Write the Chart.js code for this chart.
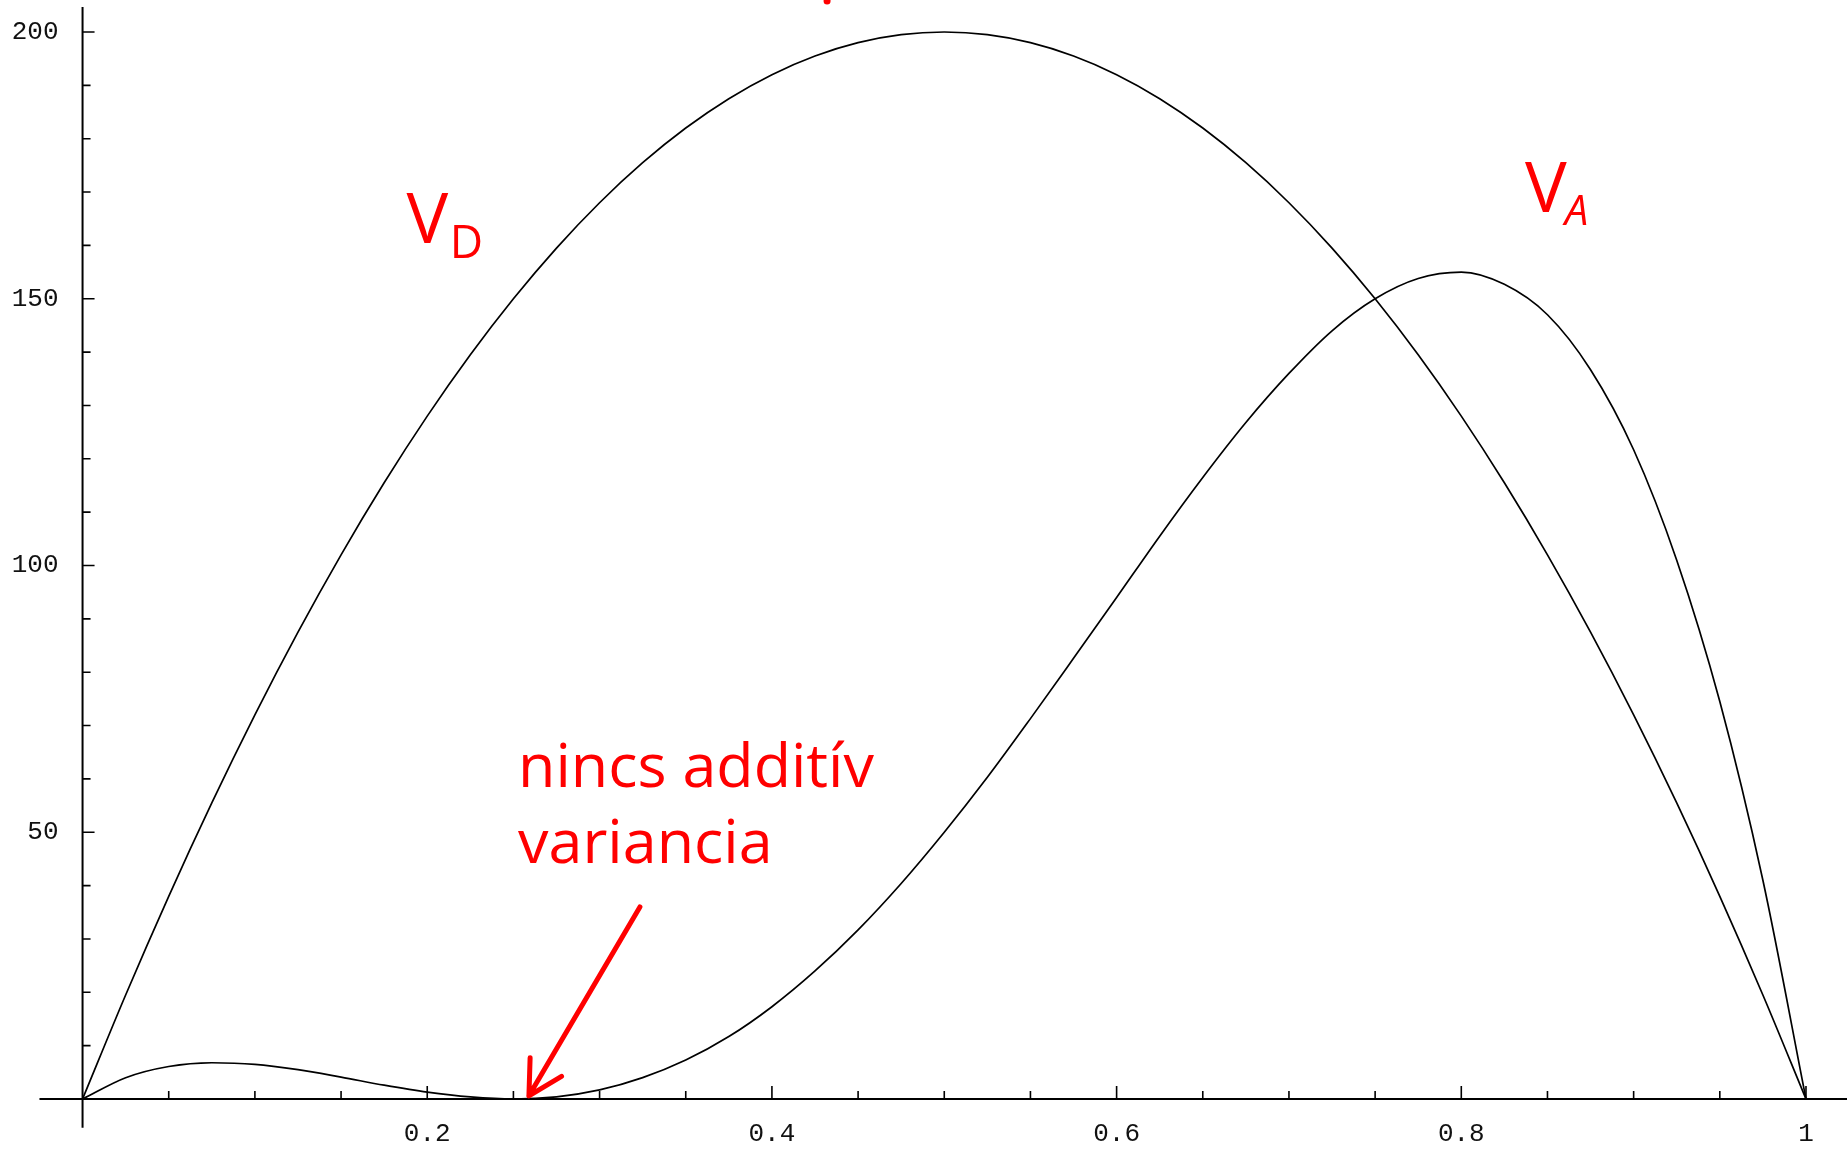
<!DOCTYPE html>
<html>
<head>
<meta charset="utf-8">
<script src="https://cdn.jsdelivr.net/npm/chart.js@4"></script>
<style>
  html, body { margin: 0; padding: 0; background: #fff; }
  canvas { display: block; }
</style>
</head>
<body>
<canvas id="myChart" width="1847" height="1149"></canvas>
<script>
// allele frequency p
const freqP = [0, 0.025, 0.05, 0.075, 0.1, 0.125, 0.15, 0.175, 0.2, 0.225,
  0.25, 0.275, 0.3, 0.325, 0.35, 0.375, 0.4, 0.425, 0.45, 0.475,
  0.5, 0.525, 0.55, 0.575, 0.6, 0.625, 0.65, 0.675, 0.7, 0.725,
  0.75, 0.775, 0.8, 0.825, 0.85, 0.875, 0.9, 0.925, 0.95, 0.975, 1]

// dominance variance
const varD = [0, 19.5, 38, 55.5, 72, 87.5, 102, 115.5, 128, 139.5,
  150, 159.5, 168, 175.5, 182, 187.5, 192, 195.5, 198, 199.5,
  200, 199.5, 198, 195.5, 192, 187.5, 182, 175.5, 168, 159.5,
  150, 139.5, 128, 115.5, 102, 87.5, 72, 55.5, 38, 19.5, 0]

// additive variance
const varA = [0, 4, 6.1, 6.8, 6.5, 5.5, 4.1, 2.6, 1.3, 0.4,
  0, 0.4, 1.7, 4, 7.3, 11.7, 17.3, 24, 31.7, 40.4,
  50, 60.3, 71.3, 82.6, 94, 105.5, 116.5, 126.8, 136, 144,
  150, 153.8, 155, 152.7, 147, 136.7, 121.7, 101, 74.5, 41, 0]

const xTickLabels = ["0.2", "0.4", "0.6", "0.8", "1"]
const yTickLabels = ["50", "100", "150", "200"]

const RED = "#ff0000"

function pts(ys) {
  return freqP.map((x, i) => ({x: x, y: ys[i]}))
}

// axes through the origin with inside ticks, drawn under the curves
const axesPlugin = {
  id: "axes",
  beforeDatasetsDraw(chart) {
    const ctx = chart.ctx
    const X = v => chart.scales.x.getPixelForValue(v)
    const Y = v => chart.scales.y.getPixelForValue(v)
    const x0 = X(0), y0 = Y(0)
    ctx.save()
    ctx.strokeStyle = "#000"
    ctx.lineWidth = 2
    ctx.beginPath()
    ctx.moveTo(X(-0.025), y0); ctx.lineTo(chart.width, y0)
    ctx.moveTo(x0, Y(204.7)); ctx.lineTo(x0, Y(-5.4))
    ctx.stroke()

    ctx.lineWidth = 1.6
    ctx.beginPath()
    for (let i = 1; i <= 20; i++) {
      const px = X(i * 0.05)
      const len = (i % 4 === 0) ? 13 : 8
      ctx.moveTo(px, y0); ctx.lineTo(px, y0 - len)
    }
    for (let i = 1; i <= 20; i++) {
      const py = Y(i * 10)
      const len = (i % 5 === 0) ? 12 : 8
      ctx.moveTo(x0, py); ctx.lineTo(x0 + len, py)
    }
    ctx.stroke()

    ctx.fillStyle = "#111"
    ctx.font = '26px "Liberation Mono"'
    ctx.textAlign = "center"
    ctx.textBaseline = "middle"
    xTickLabels.forEach(t => ctx.fillText(t, X(parseFloat(t)), y0 + 35))
    ctx.textAlign = "right"
    yTickLabels.forEach(t => ctx.fillText(t, x0 - 24, Y(parseFloat(t))))
    ctx.restore()
  }
}

// red notes on top of the plot
const notesPlugin = {
  id: "notes",
  afterDraw(chart) {
    const ctx = chart.ctx
    const X = v => chart.scales.x.getPixelForValue(v)
    const Y = v => chart.scales.y.getPixelForValue(v)
    ctx.save()
    ctx.fillStyle = RED
    ctx.strokeStyle = RED
    ctx.textBaseline = "alphabetic"
    ctx.textAlign = "left"

    ctx.font = '500 70px "Open Sans"'
    ctx.fillText("V", X(0.188), Y(160.4))
    ctx.font = '500 46px "Open Sans"'
    ctx.fillText("D", X(0.213), Y(157.6))

    ctx.font = '500 70px "Open Sans"'
    ctx.fillText("V", X(0.837), Y(166.3))
    ctx.font = 'italic 500 42px "Open Sans"'
    ctx.fillText("A", X(0.860), Y(163.8))

    ctx.font = '500 61px "Open Sans"'
    ctx.fillText("nincs additív", X(0.2527), Y(58.5))
    ctx.fillText("variancia", X(0.2527), Y(44.2))

    // arrow pointing at the zero of V_A
    const ax = X(0.3234), ay = Y(36), bx = X(0.259), by = Y(0.6)
    const ang = Math.atan2(by - ay, bx - ax)
    ctx.lineWidth = 5
    ctx.lineCap = "round"
    ctx.beginPath()
    ctx.moveTo(ax, ay); ctx.lineTo(bx, by)
    for (const d of [-0.5, 0.5]) {
      ctx.moveTo(bx, by)
      ctx.lineTo(bx - 38 * Math.cos(ang + d), by - 38 * Math.sin(ang + d))
    }
    ctx.stroke()

    ctx.beginPath()
    ctx.arc(X(0.432), Y(205.8), 3.5, 0, Math.PI * 2)
    ctx.fill()
    ctx.restore()
  }
}

window.onload = function(){
  const ctx = document.getElementById("myChart")
  try {
  new Chart(ctx, {
    type: "line",
    data: {
      datasets: [{
        label: "VD",
        data: pts(varD),
        borderColor: "#000",
        borderWidth: 1.7,
        pointRadius: 0,
        cubicInterpolationMode: "monotone",
        fill: false
      },{
        label: "VA",
        data: pts(varA),
        borderColor: "#000",
        borderWidth: 1.7,
        pointRadius: 0,
        cubicInterpolationMode: "monotone",
        fill: false
      }]
    },
    options: {
      responsive: false,
      animation: false,
      layout: {padding: 0},
      plugins: {legend: {display: false}, tooltip: {enabled: false}},
      scales: {
        x: {type: "linear", display: false, min: -0.0479, max: 1.0238},
        y: {type: "linear", display: false, min: -9.37, max: 206.0}
      }
    },
    plugins: [axesPlugin, notesPlugin]
  })
  } catch(error) { console.log(error) }
}
</script>
</body>
</html>
